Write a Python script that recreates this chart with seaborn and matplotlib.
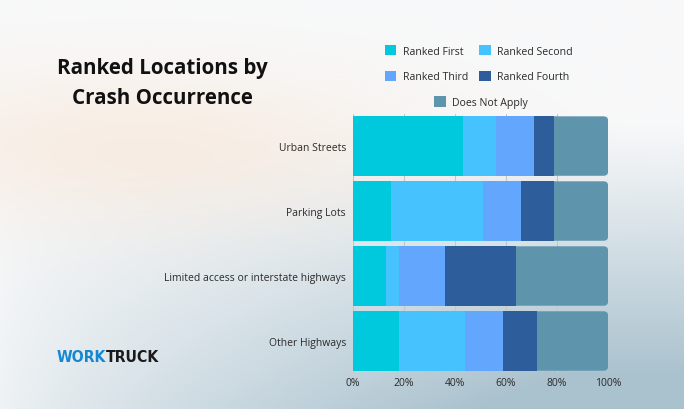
import numpy as np
import pandas as pd
import seaborn as sns
import matplotlib.pyplot as plt
from matplotlib.patches import FancyBboxPatch, Patch

# data (percent of respondents)
locations = ["Urban Streets", "Parking Lots",
             "Limited access or interstate highways", "Other Highways"]
ranked_first = [43, 15, 13, 18]
ranked_second = [13, 36, 5, 26]
ranked_third = [15, 15, 18, 15]
ranked_fourth = [8, 13, 28, 13]
does_not_apply = [21, 21, 36, 28]
series_names = ["Ranked First", "Ranked Second", "Ranked Third",
                "Ranked Fourth", "Does Not Apply"]
colors = ["#00C9DD", "#46C3FE", "#63A6FD", "#2D5E9B", "#5E95AD"]
xticks = [0, 20, 40, 60, 80, 100]

sns.set_theme(style="white")
plt.rcParams['font.family'] = ['Open Sans', 'DejaVu Sans']

fig = plt.figure(figsize=(6.84, 4.10), dpi=100)

# soft photo-like background
bg = fig.add_axes([0, 0, 1, 1], zorder=-10)
ny, nx = 82, 137
yy, xx = np.mgrid[0:1:ny * 1j, 0:1:nx * 1j]
base = np.array([0xF8, 0xF9, 0xFA]) / 255
blue = np.array([0xA6, 0xBF, 0xCC]) / 255
peach = np.array([0xF8, 0xE8, 0xDA]) / 255
wb = np.clip((yy - 0.3) / 0.7, 0, 1) * np.clip(xx * 1.2, 0, 1) ** 0.8
wb = wb + 0.12 * np.clip((yy - 0.4) / 0.6, 0, 1)
wb = np.clip(wb, 0, 1) * 0.95
img = base * (1 - wb[..., None]) + blue * wb[..., None]
wp = 0.7 * np.exp(-(((xx - 0.2) / 0.42) ** 2 + ((yy - 0.36) / 0.2) ** 2))
img = img * (1 - wp[..., None]) + peach * wp[..., None]
bg.imshow(np.clip(img, 0, 1), aspect="auto", extent=[0, 1, 1, 0], interpolation="bicubic")
bg.set_xlim(0, 1)
bg.set_ylim(1, 0)
bg.axis("off")

ax = fig.add_axes([0.516, 0.0866, 0.373, 0.634])
ax.set_facecolor("none")

df = pd.DataFrame({"location": locations, "Ranked First": ranked_first,
                   "Ranked Second": ranked_second, "Ranked Third": ranked_third,
                   "Ranked Fourth": ranked_fourth, "Does Not Apply": does_not_apply})
cum = df[series_names].cumsum(axis=1)
cum["location"] = locations

# draw cumulative totals back to front so they stack
for name, col in zip(series_names[::-1], colors[::-1]):
    sns.barplot(data=cum, x=name, y="location", color=col, width=0.915,
                ax=ax, saturation=1, zorder=3, edgecolor="none", linewidth=0)

# round the right end of the full-length bars
n = len(locations)
for p in list(ax.patches[:n]):
    x0, y0, w, h = p.get_x(), p.get_y(), p.get_width(), p.get_height()
    fc = p.get_facecolor()
    p.remove()
    ax.add_patch(FancyBboxPatch((x0, y0), w, h,
                                boxstyle="round,pad=0,rounding_size=1.8",
                                mutation_aspect=0.036, facecolor=fc,
                                edgecolor="none", linewidth=0, zorder=2))

ax.set_xlim(0, 100)
ax.set_ylim(n - 0.5, -0.5)
ax.set_xticks(xticks)
ax.set_xticklabels([f"{t}%" for t in xticks])
ax.xaxis.grid(True, color="#c3c8cc", linewidth=0.8, zorder=0)
ax.set_axisbelow(True)
for s in ax.spines.values():
    s.set_visible(False)
ax.set_xlabel("")
ax.set_ylabel("")
ax.tick_params(axis="both", length=0, labelsize=7.5, labelcolor="#2b2b2b")
ax.tick_params(axis="y", pad=5)
ax.tick_params(axis="x", pad=2.5)

# legend: two rows of pairs, then one centered item
h = [Patch(facecolor=c, edgecolor="none") for c in colors]
order = [0, 2, 1, 3]
fig.legend([h[i] for i in order], [series_names[i] for i in order],
           ncol=2, loc="center", bbox_to_anchor=(0.700, 0.842),
           frameon=False, fontsize=7.6, handlelength=1.1, handleheight=1.1,
           labelspacing=1.3, columnspacing=1.1, handletextpad=0.6,
           labelcolor="#2b2b2b")
fig.legend([h[4]], [series_names[4]], loc="center",
           bbox_to_anchor=(0.703, 0.748), frameon=False, fontsize=7.6,
           handlelength=1.1, handleheight=1.1, handletextpad=0.6,
           labelcolor="#2b2b2b")

fig.text(0.237, 0.797, "Ranked Locations by\nCrash Occurrence", ha="center",
         va="center", fontsize=14.8, fontweight="bold", color="#111111",
         linespacing=1.58, multialignment="center")

# logo text
logo_font = dict(fontsize=11.3, fontweight="bold", fontstretch="condensed",
                 family=["DejaVu Sans"], ha="left", va="center")
t1 = fig.text(0.083, 0.127, "WORK", color="#1587D1", **logo_font)
fig.canvas.draw()
bb = t1.get_window_extent()
fig.text(bb.x1 / fig.bbox.width, 0.127, "TRUCK", color="#1a1a1a", **logo_font)

fig.savefig("out.png", dpi=100)
